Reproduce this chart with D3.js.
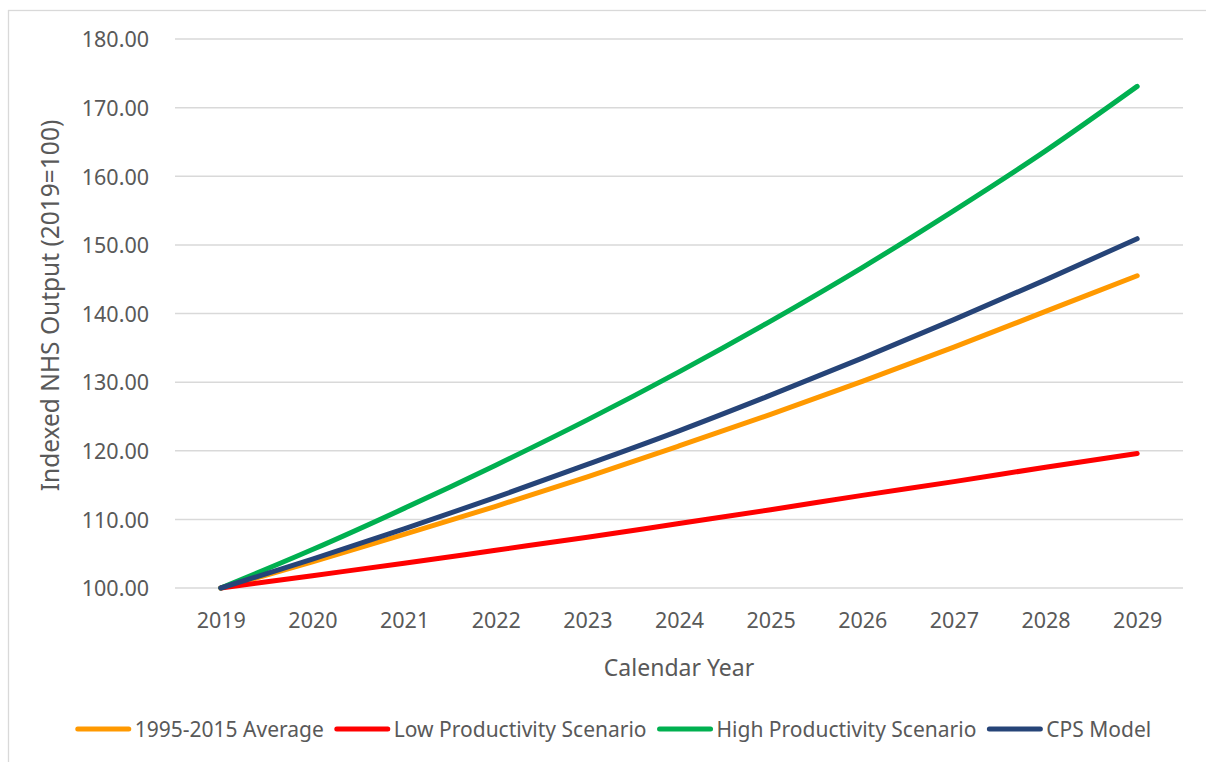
<!DOCTYPE html>
<html>
<head>
<meta charset="utf-8">
<script src="https://cdn.jsdelivr.net/npm/d3@7"></script>
<style>
  body { margin: 0; background: #fff; }
  svg text { font-family: "Noto Sans", "Open Sans", sans-serif; fill: #595959; }
</style>
</head>
<body>
<svg class="nhs-chart" width="1206" height="762"></svg>
<script>
// 年份（類別軸）
const years = ['2019', '2020', '2021', '2022', '2023', '2024', '2025', '2026', '2027', '2028', '2029'];
// 各情境的指數 (2019=100)
const avgSeries = [100, 103.8, 107.8, 111.9, 116.2, 120.7, 125.3, 130.1, 135.1, 140.3, 145.5];
const lowSeries = [100, 101.8, 103.6, 105.5, 107.4, 109.4, 111.4, 113.5, 115.5, 117.6, 119.6];
const highSeries = [100, 105.6, 111.6, 117.9, 124.5, 131.5, 138.9, 146.7, 155.0, 163.7, 173.1];
const cpsSeries = [100, 104.2, 108.6, 113.2, 118.0, 122.9, 128.1, 133.5, 139.1, 144.9, 150.9];
const yTicks = [100, 110, 120, 130, 140, 150, 160, 170, 180];
const seriesNames = ['1995-2015 Average', 'Low Productivity Scenario', 'High Productivity Scenario', 'CPS Model'];
const seriesColors = ['#FF9900', '#FF0000', '#00B050', '#264478'];

const svg = d3.select('svg.nhs-chart');
const plot = { left: 175, right: 1183, top: 39, bottom: 588 };
const tickFont = '21.5px';

// 外框
svg.append('rect')
  .attr('x', 8.5)
  .attr('y', 10.5)
  .attr('width', 1230)
  .attr('height', 780)
  .attr('fill', '#fff')
  .attr('stroke', '#d9d9d9')
  .attr('stroke-width', 1.3);

const x = d3.scalePoint()
  .domain(years)
  .range([plot.left, plot.right])
  .padding(0.5);

const y = d3.scaleLinear()
  .domain([100, 180])
  .range([plot.bottom, plot.top]);

// 格線
svg.append('g')
  .selectAll('line')
  .data(yTicks)
  .join('line')
  .attr('x1', plot.left)
  .attr('x2', plot.right)
  .attr('y1', (d) => y(d))
  .attr('y2', (d) => y(d))
  .attr('stroke', '#d9d9d9')
  .attr('stroke-width', 1.5);

// Y 軸文字
const yAxis = svg.append('g')
  .attr('transform', `translate(${plot.left},0)`)
  .call(d3.axisLeft(y).tickValues(yTicks).tickFormat(d3.format('.2f')).tickSize(0));
yAxis.select('.domain').remove();
yAxis.selectAll('text')
  .attr('x', -26)
  .attr('dy', '0.36em')
  .style('font-size', tickFont);

// X 軸文字
const xAxis = svg.append('g')
  .attr('transform', `translate(0,${plot.bottom})`)
  .call(d3.axisBottom(x).tickSize(0));
xAxis.select('.domain').remove();
xAxis.selectAll('text')
  .attr('y', 32)
  .attr('dy', '0.36em')
  .style('font-size', tickFont);
svg.selectAll('.tick text').attr('fill', null);

// 軸標題
svg.append('text')
  .attr('x', (plot.left + plot.right) / 2)
  .attr('y', 668)
  .attr('dy', '0.36em')
  .attr('text-anchor', 'middle')
  .style('font-size', '23px')
  .text('Calendar Year');

svg.append('text')
  .attr('transform', `translate(50,${(plot.top + plot.bottom) / 2 - 8}) rotate(-90)`)
  .attr('dy', '0.36em')
  .attr('text-anchor', 'middle')
  .style('font-size', '24.5px')
  .text('Indexed NHS Output (2019=100)');

// 折線
const line = d3.line()
  .x((d, i) => x(years[i]))
  .y((d) => y(d))
  .curve(d3.curveMonotoneX);

const allSeries = [avgSeries, lowSeries, highSeries, cpsSeries];
svg.append('g')
  .selectAll('path')
  .data(allSeries)
  .join('path')
  .attr('d', (d) => line(d))
  .attr('fill', 'none')
  .attr('stroke', (d, i) => seriesColors[i])
  .attr('stroke-width', 5)
  .attr('stroke-linecap', 'round')
  .attr('stroke-linejoin', 'round');

// 圖例，依文字寬度排列後置中
const legend = svg.append('g').attr('class', 'legend');
const legendY = 729;
const swatchLen = 55;
let cursor = 0;
seriesNames.forEach((name, i) => {
  const item = legend.append('g').attr('transform', `translate(${cursor},0)`);
  item.append('line')
    .attr('x1', 2)
    .attr('x2', swatchLen - 2)
    .attr('y1', legendY)
    .attr('y2', legendY)
    .attr('stroke', seriesColors[i])
    .attr('stroke-width', 5)
    .attr('stroke-linecap', 'round');
  const label = item.append('text')
    .attr('x', swatchLen + 4)
    .attr('y', legendY)
    .attr('dy', '0.36em')
    .style('font-size', '21px')
    .text(name);
  cursor += swatchLen + 4 + label.node().getComputedTextLength() + 11;
});
const legendWidth = cursor - 11;
legend.attr('transform', `translate(${613.5 - legendWidth / 2},0)`);
</script>
</body>
</html>
